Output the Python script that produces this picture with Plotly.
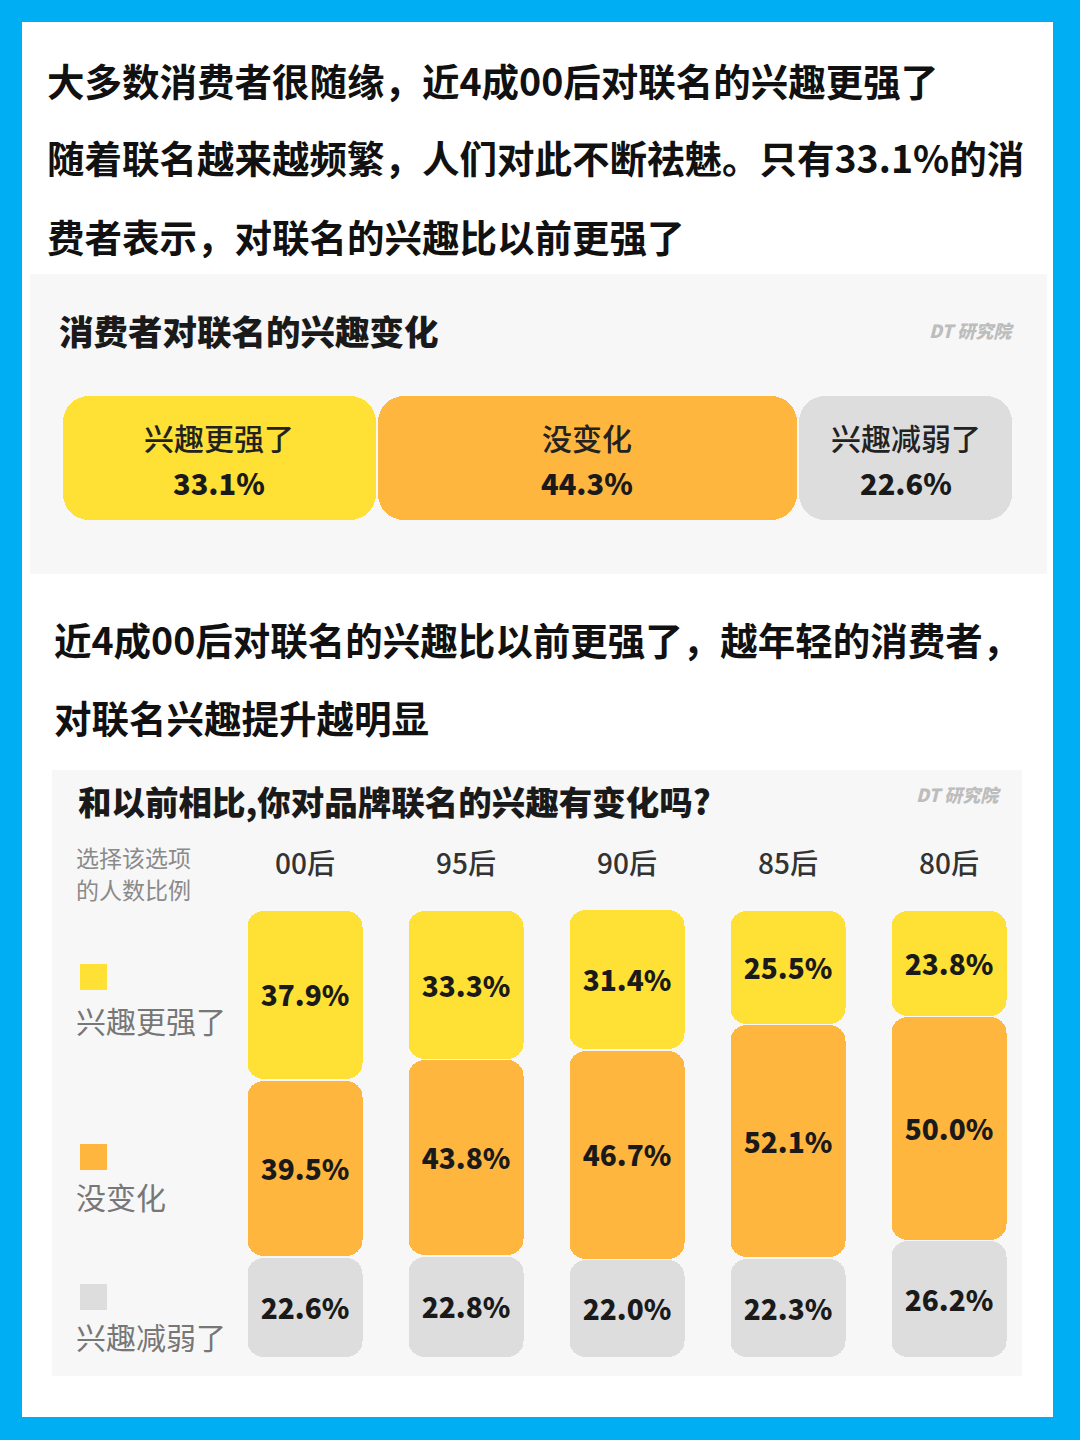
import plotly.graph_objects as go

# ---------------- data ----------------
overall_labels = ["兴趣更强了", "没变化", "兴趣减弱了"]
overall_values = [33.1, 44.3, 22.6]

generations = ["00后", "95后", "90后", "85后", "80后"]
stronger = [37.9, 33.3, 31.4, 25.5, 23.8]
same = [39.5, 43.8, 46.7, 52.1, 50.0]
weaker = [22.6, 22.8, 22.0, 22.3, 26.2]

headline_lines = [
    "大多数消费者很随缘，近4成00后对联名的兴趣更强了",
    "随着联名越来越频繁，人们对此不断祛魅。只有33.1%的消",
    "费者表示，对联名的兴趣比以前更强了",
]
mid_lines = [
    "近4成00后对联名的兴趣比以前更强了，越年轻的消费者，",
    "对联名兴趣提升越明显",
]
chart1_title = "消费者对联名的兴趣变化"
chart2_title = "和以前相比,你对品牌联名的兴趣有变化吗?"
legend_caption = ["选择该选项", "的人数比例"]
watermark = "DT 研究院"

# ---------------- style ----------------
W, H = 1080, 1440
FONT = "Noto Sans CJK SC"
YELLOW = "#FEE134"
ORANGE = "#FEB63F"
GREY = "#DDDDDD"
PANEL = "#F7F7F7"
BLUE = "#00AEF3"
seg_colors = [YELLOW, ORANGE, GREY]
LABEL_NUDGE = -1.0  # small downward nudge of in-bar labels (axis units)


def px(x):
    return x / W


def py(y):
    return 1 - y / H


fig = go.Figure()


# floating bars (with base) are rounded at both ends by plotly
def add_segment(start, end, pos, color, orient, xa, ya, width, radius, gap):
    s = start + gap / 2
    e = end - gap / 2
    mk = dict(color=color, cornerradius=radius, line=dict(width=0))
    if orient == "h":
        fig.add_trace(go.Bar(x=[e - s], y=[pos], base=[s], orientation="h", width=width,
                             marker=mk, xaxis=xa, yaxis=ya, showlegend=False, hoverinfo="skip"))
    else:
        fig.add_trace(go.Bar(x=[pos], y=[e - s], base=[s], width=width,
                             marker=mk, xaxis=xa, yaxis=ya, showlegend=False, hoverinfo="skip"))


annotations = []

# ---- chart 1: horizontal 100% bar ----
cum = 0
for lab, val, col in zip(overall_labels, overall_values, seg_colors):
    add_segment(cum, cum + val, 0, col, "h", "x", "y", 1.0, 26, 0.25)
    c = cum + val / 2
    annotations.append(dict(x=c, xref="x", y=py(437), yref="paper", text=lab, showarrow=False,
                            font=dict(family=FONT, size=30, color="#222", weight=500),
                            xanchor="center", yanchor="middle"))
    annotations.append(dict(x=c, xref="x", y=py(482), yref="paper", text=f"{val:.1f}%", showarrow=False,
                            font=dict(family=FONT, size=29, color="#1a1a1a", weight=800),
                            xanchor="center", yanchor="middle"))
    cum += val

# ---- chart 2: vertical stacked bars (yellow on top) ----
idx = list(range(len(generations)))
label_x, label_y, label_t = [], [], []
for i in idx:
    segs = [(weaker[i], GREY), (same[i], ORANGE), (stronger[i], YELLOW)]
    b = 0
    for v, col in segs:
        add_segment(b, b + v, i, col, "v", "x2", "y2", 0.715, 16, 0.35)
        label_x.append(i)
        label_y.append(b + v / 2 + LABEL_NUDGE)
        label_t.append(f"{v:.1f}%")
        b += v

fig.add_trace(go.Scatter(x=label_x, y=label_y, text=label_t, mode="text",
                         textfont=dict(family=FONT, size=28, color="#1a1a1a", weight=800),
                         textposition="middle center", xaxis="x2", yaxis="y2",
                         showlegend=False, hoverinfo="skip"))

for i, g in zip(idx, generations):
    annotations.append(dict(x=i, xref="x2", y=py(862), yref="paper", text=g, showarrow=False,
                            font=dict(family=FONT, size=28, color="#333", weight=500),
                            xanchor="center", yanchor="middle"))

# ---- text blocks ----
for k, line in enumerate(headline_lines):
    annotations.append(dict(x=px(45), y=py([79, 157, 236][k]), xref="paper", yref="paper",
                            text=line, showarrow=False, xanchor="left", yanchor="middle",
                            font=dict(family=FONT, size=37.5, color="#111", weight=700)))
for k, line in enumerate(mid_lines):
    annotations.append(dict(x=px(52), y=py([638, 716][k]), xref="paper", yref="paper",
                            text=line, showarrow=False, xanchor="left", yanchor="middle",
                            font=dict(family=FONT, size=37.5, color="#111", weight=700)))

annotations.append(dict(x=px(57), y=py(330), xref="paper", yref="paper", text=chart1_title,
                        showarrow=False, xanchor="left", yanchor="middle",
                        font=dict(family=FONT, size=34.5, color="#1a1a1a", weight=900)))
annotations.append(dict(x=px(76), y=py(800), xref="paper", yref="paper", text=chart2_title,
                        showarrow=False, xanchor="left", yanchor="middle",
                        font=dict(family=FONT, size=33.5, color="#1a1a1a", weight=900)))
for (wx, wy) in [(1016, 330), (1003, 794)]:
    annotations.append(dict(x=px(wx), y=py(wy), xref="paper", yref="paper", text=f"<i>{watermark}</i>",
                            showarrow=False, xanchor="right", yanchor="middle",
                            font=dict(family=FONT, size=18, color="#BDBDBD", weight=900)))

for k, line in enumerate(legend_caption):
    annotations.append(dict(x=px(74), y=py([857, 889][k]), xref="paper", yref="paper", text=line,
                            showarrow=False, xanchor="left", yanchor="middle",
                            font=dict(family=FONT, size=23, color="#8a8a8a", weight=400)))

shapes = [
    dict(type="rect", xref="paper", yref="paper", x0=px(22), x1=px(1053), y0=py(1417), y1=py(22),
         fillcolor="white", line=dict(width=0), layer="below"),
    dict(type="rect", xref="paper", yref="paper", x0=px(30), x1=px(1047), y0=py(574), y1=py(274),
         fillcolor=PANEL, line=dict(width=0), layer="below"),
    dict(type="rect", xref="paper", yref="paper", x0=px(52), x1=px(1022), y0=py(1376), y1=py(770),
         fillcolor=PANEL, line=dict(width=0), layer="below"),
]

legend_items = [("兴趣更强了", YELLOW, 977, 1020), ("没变化", ORANGE, 1157, 1196), ("兴趣减弱了", GREY, 1297, 1336)]
for lab, col, sq_y, txt_y in legend_items:
    shapes.append(dict(type="rect", xref="paper", yref="paper", x0=px(80), x1=px(107),
                       y0=py(sq_y + 13), y1=py(sq_y - 13), fillcolor=col, line=dict(width=0), layer="below"))
    annotations.append(dict(x=px(74), y=py(txt_y), xref="paper", yref="paper", text=lab,
                            showarrow=False, xanchor="left", yanchor="middle",
                            font=dict(family=FONT, size=30, color="#777", weight=400)))

fig.update_layout(
    width=W, height=H, margin=dict(l=0, r=0, t=0, b=0),
    paper_bgcolor=BLUE, plot_bgcolor="rgba(0,0,0,0)",
    barmode="overlay", bargap=0,
    showlegend=False,
    xaxis=dict(domain=[px(62), px(1013)], range=[0, 100], visible=False, fixedrange=True),
    yaxis=dict(domain=[py(520), py(396)], range=[-0.5, 0.5], visible=False, fixedrange=True),
    xaxis2=dict(domain=[px(224.5), px(1029.5)], range=[-0.5, 4.5], visible=False, anchor="y2", fixedrange=True),
    yaxis2=dict(domain=[py(1358), py(910)], range=[0, 100], visible=False, anchor="x2", fixedrange=True),
    annotations=annotations, shapes=shapes,
)

fig.write_html("out.html")
